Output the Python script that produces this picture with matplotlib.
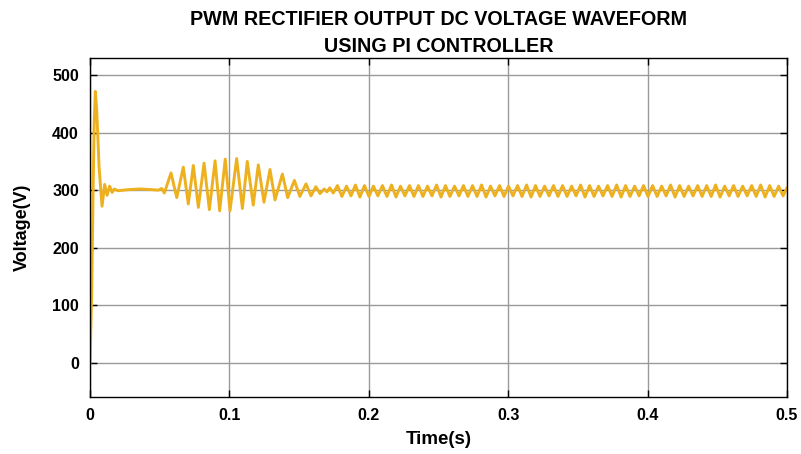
import numpy as np
import matplotlib
matplotlib.use("Agg")
import matplotlib.pyplot as plt

# start-up transient and the first steady stretch (time in s, voltage in V)
start_t = [0.0, 0.0012, 0.0022, 0.0030, 0.0038, 0.0048, 0.0065, 0.0086, 0.0105, 0.0122,
           0.0141, 0.0158, 0.0175, 0.0200, 0.0280, 0.0360, 0.0440, 0.0490]
start_v = [0, 120, 300, 420, 472, 440, 340, 272, 310, 291,
           307, 296, 302, 299, 301, 302, 301, 300]

# disturbance oscillation between ~0.05 s and ~0.177 s (extrema)
osc_t = [0.0514, 0.0533, 0.0581, 0.0622, 0.0669, 0.0705, 0.0741, 0.0777, 0.0818,
         0.0856, 0.0897, 0.0930, 0.0970, 0.1004, 0.1052, 0.1093, 0.1128, 0.1171,
         0.1207, 0.1248, 0.1291, 0.1327, 0.1380, 0.1418, 0.1466, 0.1505, 0.1550,
         0.1585, 0.1620, 0.1650, 0.1680, 0.1700, 0.1720, 0.1745]
osc_v = [303, 295, 330, 287, 340, 276, 343, 270, 347,
         266, 351, 264, 354, 264, 355, 268, 350, 274,
         344, 279, 336, 283, 328, 287, 317, 289, 311,
         290, 306, 294, 302, 297, 304, 295]

# steady ripple to the end: peaks and troughs
peak_t = [0.1775, 0.1840, 0.1904, 0.1969, 0.2033, 0.2098, 0.2163, 0.2227, 0.2292, 0.2356,
          0.2421, 0.2486, 0.2550, 0.2615, 0.2679, 0.2744, 0.2809, 0.2873, 0.2938, 0.3002,
          0.3067, 0.3132, 0.3196, 0.3261, 0.3325, 0.3390, 0.3455, 0.3519, 0.3584, 0.3648,
          0.3713, 0.3778, 0.3842, 0.3907, 0.3971, 0.4036, 0.4101, 0.4165, 0.4230, 0.4294,
          0.4359, 0.4424, 0.4488, 0.4553, 0.4617, 0.4682, 0.4747, 0.4811, 0.4876, 0.4940]
peak_v = [308, 307, 309, 308, 307, 308, 309, 307, 308, 308,
          307, 309, 308, 307, 308, 308, 309, 307, 308, 307,
          308, 309, 308, 307, 308, 308, 307, 309, 308, 307,
          308, 309, 308, 307, 308, 308, 307, 309, 308, 307,
          308, 308, 309, 307, 308, 307, 308, 309, 308, 307]
trough_t = [0.1807, 0.1872, 0.1936, 0.2001, 0.2065, 0.2130, 0.2195, 0.2259, 0.2324, 0.2388,
            0.2453, 0.2518, 0.2582, 0.2647, 0.2711, 0.2776, 0.2841, 0.2905, 0.2970, 0.3034,
            0.3099, 0.3164, 0.3228, 0.3293, 0.3357, 0.3422, 0.3487, 0.3551, 0.3616, 0.3680,
            0.3745, 0.3810, 0.3874, 0.3939, 0.4003, 0.4068, 0.4133, 0.4197, 0.4262, 0.4326,
            0.4391, 0.4456, 0.4520, 0.4585, 0.4649, 0.4714, 0.4779, 0.4843, 0.4908, 0.4972]
trough_v = [289, 290, 288, 289, 290, 289, 288, 290, 289, 289,
            290, 288, 289, 290, 289, 289, 288, 290, 289, 290,
            289, 288, 289, 290, 289, 289, 290, 288, 289, 290,
            289, 288, 289, 290, 289, 289, 290, 288, 289, 290,
            289, 289, 288, 290, 289, 290, 289, 288, 289, 290]
end_t = [0.5]
end_v = [304]

# put the ripple extrema in time order
ripple_t = np.concatenate([peak_t, trough_t])
ripple_v = np.concatenate([peak_v, trough_v])
order = np.argsort(ripple_t)

t = np.concatenate([start_t, osc_t, ripple_t[order], end_t])
v = np.concatenate([start_v, osc_v, ripple_v[order], end_v])

plt.rcParams['font.family'] = ['Liberation Sans', 'DejaVu Sans']

fig = plt.figure(figsize=(8.01, 4.54), dpi=100)
ax = fig.add_axes([0.1124, 0.1256, 0.8701, 0.7466])

ax.plot(t, v, color='#EDB120', linewidth=2.1, solid_joinstyle='round')

ax.set_xlim(0, 0.5)
ax.set_ylim(-60, 530)
ax.set_xticks([0, 0.1, 0.2, 0.3, 0.4, 0.5])
ax.set_xticklabels(['0', '0.1', '0.2', '0.3', '0.4', '0.5'])
ax.set_yticks([0, 100, 200, 300, 400, 500])
ax.grid(True, color='#9a9a9a', linewidth=1.0)
ax.set_axisbelow(True)

ax.tick_params(direction='in', length=5, width=1, top=True, right=True,
               labelsize=11.5, pad=8)
for lab in ax.get_xticklabels() + ax.get_yticklabels():
    lab.set_fontweight('bold')
for s in ax.spines.values():
    s.set_color('black')
    s.set_linewidth(1.0)

ax.set_xlabel('Time(s)', fontsize=13.5, fontweight='bold', labelpad=6)
ax.set_ylabel('Voltage(V)', fontsize=13, fontweight='bold', labelpad=15)
ax.set_title('PWM RECTIFIER OUTPUT DC VOLTAGE WAVEFORM\nUSING PI CONTROLLER',
             fontsize=14.2, fontweight='bold', linespacing=1.55, pad=4)

fig.savefig('out.png', dpi=100)
